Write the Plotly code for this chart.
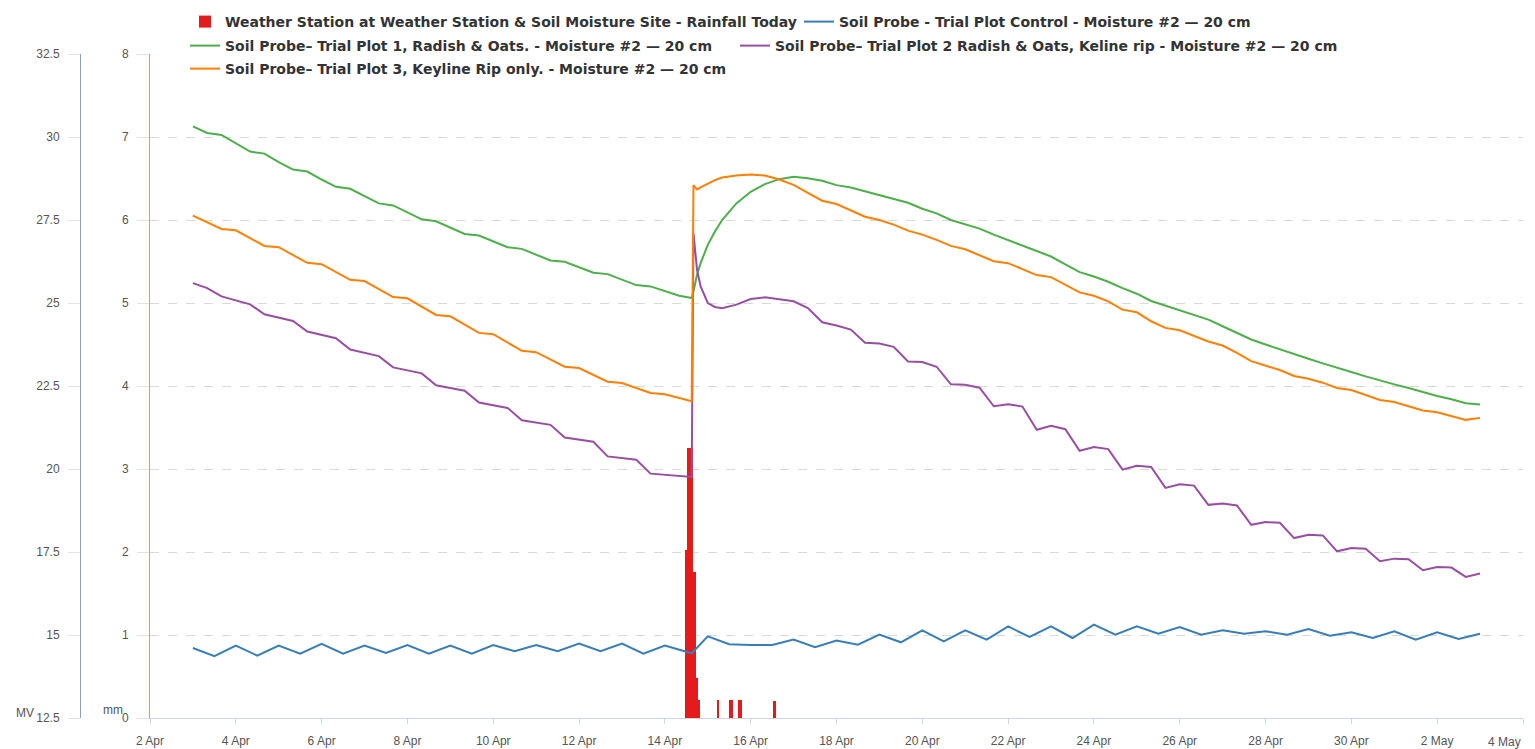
import pandas as pd
import plotly.graph_objects as go

# ---------------- data ----------------
# sampling times of the three trial-plot probes (8-hourly, denser around the storm)
probe_times = (
    list(pd.date_range("2019-04-03 00:00", "2019-04-14 08:00", freq="8h"))
    + list(pd.to_datetime([
        "2019-04-14 12:00", "2019-04-14 14:00", "2019-04-14 15:00", "2019-04-14 16:00",
        "2019-04-14 18:00", "2019-04-14 20:00", "2019-04-15 00:00", "2019-04-15 04:00",
        "2019-04-15 08:00"]))
    + list(pd.date_range("2019-04-15 16:00", "2019-05-03 00:00", freq="8h"))
)

# sampling times of the control probe (12-hourly)
control_times = (
    list(pd.date_range("2019-04-03 00:00", "2019-04-14 12:00", freq="12h"))
    + [pd.Timestamp("2019-04-14 15:00")]
    + list(pd.date_range("2019-04-15 00:00", "2019-05-03 00:00", freq="12h"))
)

control_mv = [
    14.61, 14.36, 14.68, 14.38, 14.68, 14.44, 14.73, 14.44, 14.68, 14.46, 14.70, 14.44,
    14.68, 14.44, 14.70, 14.51, 14.70, 14.51, 14.74, 14.51, 14.74, 14.44, 14.68, 14.48,
    14.45,
    14.96, 14.72, 14.70, 14.70, 14.86, 14.63, 14.83, 14.71, 15.01, 14.78, 15.14, 14.81,
    15.14, 14.86, 15.26, 14.94, 15.26, 14.91, 15.31, 15.01, 15.26, 15.04, 15.24, 15.01,
    15.14, 15.04, 15.11, 15.01, 15.18, 14.98, 15.08, 14.91, 15.11, 14.86, 15.08, 14.88,
    15.04,
]

plot1_mv = [
    30.32, 30.12, 30.06, 29.80, 29.56, 29.50, 29.24, 29.02, 28.96, 28.72, 28.50, 28.44,
    28.22, 28.00, 27.94, 27.72, 27.52, 27.46, 27.26, 27.08, 27.03, 26.85, 26.68, 26.63,
    26.45, 26.28, 26.24, 26.07, 25.91, 25.87, 25.70, 25.54, 25.50, 25.35, 25.22,
    25.18, 25.16, 25.15, 25.35, 25.85, 26.20, 26.75, 27.15, 27.50,
    28.00, 28.35, 28.58, 28.73, 28.80, 28.76, 28.68, 28.55, 28.48, 28.36, 28.24, 28.12,
    28.02, 27.84, 27.70, 27.50, 27.36, 27.24, 27.06, 26.90, 26.74, 26.58, 26.40, 26.16,
    25.93, 25.80, 25.64, 25.45, 25.28, 25.06, 24.92, 24.80, 24.66, 24.50, 24.30, 24.10,
    23.90, 23.75, 23.60, 23.45, 23.32, 23.18, 23.04, 22.92, 22.79, 22.66, 22.55, 22.44,
    22.31, 22.20, 22.10, 21.98, 21.94,
]

plot2_mv = [
    25.60, 25.45, 25.20, 25.08, 24.96, 24.66, 24.56, 24.46, 24.14, 24.04, 23.94, 23.60,
    23.50, 23.40, 23.06, 22.96, 22.88, 22.52, 22.44, 22.36, 22.00, 21.92, 21.84, 21.47,
    21.40, 21.33, 20.95, 20.88, 20.82, 20.38, 20.32, 20.28, 19.86, 19.82, 19.80,
    19.78, 19.76, 19.76, 27.10, 26.00, 25.50, 25.00, 24.88, 24.84,
    24.95, 25.12, 25.17, 25.10, 25.05, 24.85, 24.42, 24.32, 24.20, 23.80, 23.78, 23.68,
    23.24, 23.22, 23.08, 22.55, 22.54, 22.45, 21.89, 21.95, 21.88, 21.18, 21.30, 21.20,
    20.55, 20.66, 20.60, 19.98, 20.10, 20.06, 19.43, 19.54, 19.50, 18.92, 18.96, 18.90,
    18.32, 18.40, 18.38, 17.92, 18.02, 18.00, 17.52, 17.62, 17.60, 17.22, 17.30, 17.28,
    16.95, 17.05, 17.03, 16.75, 16.85,
]

plot3_mv = [
    27.63, 27.42, 27.23, 27.19, 26.95, 26.72, 26.68, 26.45, 26.21, 26.17, 25.93, 25.70,
    25.66, 25.42, 25.18, 25.14, 24.88, 24.64, 24.60, 24.34, 24.10, 24.06, 23.80, 23.56,
    23.52, 23.30, 23.08, 23.04, 22.83, 22.63, 22.59, 22.43, 22.29, 22.25, 22.15,
    22.10, 22.06, 22.04, 28.55, 28.42, 28.48, 28.60, 28.70, 28.78,
    28.84, 28.87, 28.84, 28.72, 28.56, 28.32, 28.08, 27.98, 27.80, 27.60, 27.50, 27.36,
    27.18, 27.06, 26.90, 26.72, 26.62, 26.44, 26.26, 26.20, 26.02, 25.84, 25.78, 25.55,
    25.32, 25.22, 25.05, 24.80, 24.72, 24.45, 24.25, 24.18, 24.00, 23.84, 23.72, 23.50,
    23.25, 23.12, 22.98, 22.80, 22.72, 22.60, 22.44, 22.38, 22.24, 22.08, 22.02, 21.90,
    21.76, 21.71, 21.60, 21.48, 21.54,
]

rain_times = pd.to_datetime([
    "2019-04-14 12:00", "2019-04-14 13:00", "2019-04-14 14:00", "2019-04-14 15:00",
    "2019-04-14 16:00", "2019-04-14 17:00", "2019-04-14 18:00", "2019-04-14 19:00",
    "2019-04-15 05:40", "2019-04-15 12:30", "2019-04-15 13:30", "2019-04-15 17:30",
    "2019-04-15 18:30", "2019-04-16 13:20",
])
rain_mm = [2.03, 3.25, 3.25, 3.25, 1.76, 1.76, 0.48, 0.22, 0.22, 0.22, 0.22, 0.22, 0.22, 0.20]

x_ticks = list(pd.date_range("2019-04-02", "2019-05-04", freq="2D"))
x_tick_text = [f"{d.day} {d.strftime('%b')}" for d in x_ticks[:-1]] + [""]  # last label drawn separately

names = [
    "Weather Station at Weather Station & Soil Moisture Site - Rainfall Today",
    "Soil Probe - Trial Plot Control - Moisture #2 \u2014 20 cm",
    "Soil Probe\u2013 Trial Plot 1, Radish & Oats. - Moisture #2 \u2014 20 cm",
    "Soil Probe\u2013 Trial Plot 2 Radish & Oats, Keline rip - Moisture #2 \u2014 20 cm",
    "Soil Probe\u2013 Trial Plot 3, Keyline Rip only. - Moisture #2 \u2014 20 cm",
]
colors = ["#e41a1c", "#377eb8", "#4daf4a", "#984ea3", "#ff7f00"]

# ---------------- figure ----------------
# the page body has an 8px margin, so the figure is drawn 8px right / down
W, H = 1527, 741
ML, MR, MT, MB = 10, 12, 46, 31
pw = W - ML - MR
ph = H - MT - MB
x0 = (142 - ML) / pw
mv_pos = (72 - ML) / pw

legend_ids = ["legend", "legend2", "legend3", "legend4", "legend5"]

fig = go.Figure()
fig.add_trace(go.Bar(x=rain_times, y=rain_mm, name=names[0], width=3600000 * 1.2,
                     marker=dict(color=colors[0], line=dict(width=0)), yaxis="y",
                     legend=legend_ids[0]))
for i, xs, ys in [(1, control_times, control_mv), (2, probe_times, plot1_mv),
                  (3, probe_times, plot2_mv), (4, probe_times, plot3_mv)]:
    fig.add_trace(go.Scatter(x=xs, y=ys, name=names[i], mode="lines",
                             line=dict(color=colors[i], width=2), yaxis="y2",
                             legend=legend_ids[i]))

tickfont = dict(family="Liberation Sans, Arial, sans-serif", size=12, color="#555555")
legfont = dict(family="DejaVu Sans, sans-serif", size=14, color="#333333", weight="bold")


def leg(px_left, px_top):
    return dict(orientation="h", x=(px_left - ML) / pw, y=1 + (MT - px_top) / ph,
                xanchor="left", yanchor="top", itemwidth=30, font=legfont,
                bgcolor="rgba(0,0,0,0)")


fig.update_layout(
    width=W, height=H,
    margin=dict(l=ML, r=MR, t=MT, b=MB, autoexpand=False),
    plot_bgcolor="white", paper_bgcolor="white",
    bargap=0,
    showlegend=True,
    legend=leg(177, -2),
    legend2=leg(791, -2),
    legend3=leg(177, 22),
    legend4=leg(727, 22),
    legend5=leg(177, 45),
    xaxis=dict(type="date", domain=[x0, 1], range=["2019-04-02", "2019-05-04"],
               tickvals=x_ticks, ticktext=x_tick_text, ticks="outside", ticklen=5,
               tickcolor="#ccd6eb", showline=True, linecolor="#ccd6eb", linewidth=1,
               showgrid=False, zeroline=False, tickfont=tickfont, ticklabelstandoff=7),
    yaxis=dict(range=[0, 8], tick0=0, dtick=1, showgrid=True, gridcolor="#d9d9d9",
               griddash="dash", zeroline=False, showline=True, linecolor="#f08a8a",
               linewidth=1, ticks="outside", ticklen=12, tickcolor="#e3e3e3",
               ticklabelstandoff=6, tickfont=tickfont),
    yaxis2=dict(range=[12.5, 32.5], tick0=12.5, dtick=2.5, overlaying="y", anchor="free",
                position=mv_pos, side="left", showgrid=False, zeroline=False,
                showline=True, linecolor="#8da2c0", linewidth=1, ticks="outside",
                ticklen=12, tickcolor="#e3e3e3", ticklabelstandoff=6, tickfont=tickfont),
    annotations=[
        dict(text="MV", xref="paper", yref="paper", x=(17 - ML) / pw, y=0, yshift=5,
             xanchor="center", yanchor="middle", showarrow=False, font=tickfont),
        dict(text="mm", xref="paper", yref="paper", x=(105 - ML) / pw, y=0, yshift=8,
             xanchor="center", yanchor="middle", showarrow=False, font=tickfont),
        dict(text="4 May", xref="x", yref="paper", x="2019-05-04", y=0, yshift=-24,
             xanchor="right", yanchor="middle", showarrow=False, font=tickfont),
    ],
)

fig.write_html("out.html")
